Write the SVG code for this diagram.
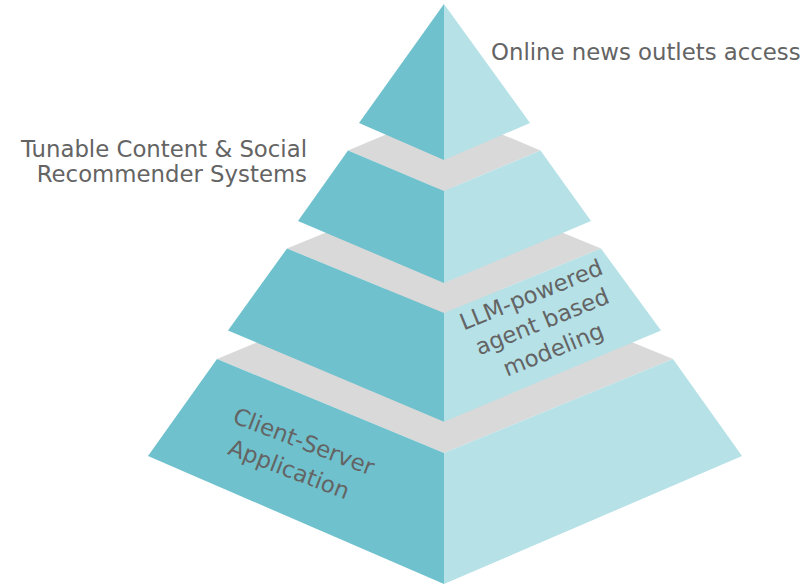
<svg xmlns="http://www.w3.org/2000/svg" width="805" height="584" viewBox="0 0 805 584">
<style>
.l{fill:#6FC1CD}
.r{fill:#B5E1E7}
.g{fill:#D9D9D9}
.t{font-family:"DejaVu Sans","Liberation Sans",sans-serif;font-size:22.8px;fill:#646464}
</style>
<rect width="805" height="584" fill="#ffffff"/>
<g id="tier4">
<polygon class="g" points="217,359 444,265 673,359 444,453"/>
<polygon class="l" points="217,359 444,453 444,584 148,456"/>
<polygon class="r" points="444,453 673,359 742,456 444,584"/>
<text class="t" text-anchor="middle" transform="translate(301,449) rotate(21)"><tspan x="0" y="0">Client-Server</tspan><tspan x="-4" y="31">Application</tspan></text>
</g>
<g id="tier3">
<polygon class="g" points="287,248.5 444,184 601,248.5 444,313"/>
<polygon class="l" points="287,248.5 444,313 444,421.7 228,330.5"/>
<polygon class="r" points="444,313 601,248.5 661,330.5 444,421.7"/>
<text class="t" text-anchor="middle" transform="translate(545,329) rotate(-22)"><tspan x="0" y="-29">LLM-powered</tspan><tspan x="0" y="0">agent based</tspan><tspan x="0" y="30">modeling</tspan></text>
</g>
<g id="tier2">
<polygon class="g" points="348,150.5 444,110 540.5,150.5 444,191"/>
<polygon class="l" points="348,150.5 444,191 444,283 298,221"/>
<polygon class="r" points="444,191 540.5,150.5 591,221 444,283"/>
</g>
<g id="top">
<polygon class="l" points="444,4 444,160 359,123"/>
<polygon class="r" points="444,4 530,123 444,160"/>
</g>
<g id="labels">
<text class="t" x="491" y="59.5">Online news outlets access</text>
<text class="t" text-anchor="end" x="307" y="157">Tunable Content &amp; Social</text>
<text class="t" text-anchor="end" x="307" y="181.5">Recommender Systems</text>
</g>
</svg>
